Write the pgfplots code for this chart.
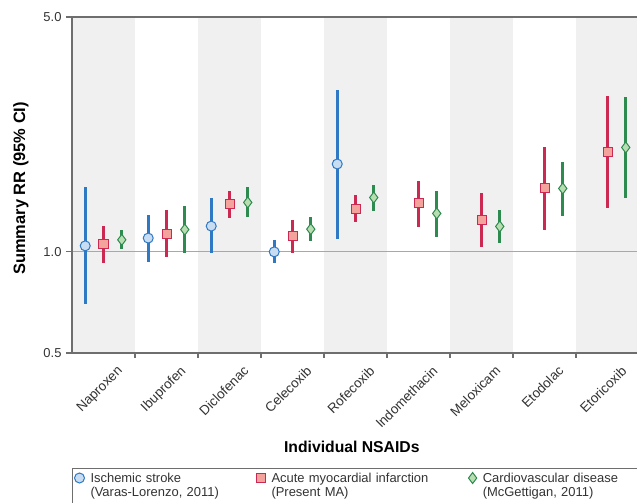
\documentclass[border=0pt]{standalone}
\usepackage{fontspec}
\setmainfont{Liberation Sans}
\usepackage{pgfplots}
\usepackage{pgfplotstable}
\pgfplotsset{compat=1.18}
\definecolor{bandgray}{HTML}{F0F0F0}
\definecolor{axisgray}{HTML}{6E6E6E}
\definecolor{refgray}{HTML}{A8A8A8}
\definecolor{txtgray}{HTML}{333333}
\definecolor{sblue}{HTML}{2F78C4}
\definecolor{sbluefill}{HTML}{C9DDF2}
\definecolor{sred}{HTML}{CC2952}
\definecolor{sredfill}{HTML}{F4A29C}
\definecolor{sgreen}{HTML}{2E8B4F}
\definecolor{sgreenfill}{HTML}{B8DDB0}

% Ischemic stroke (Varas-Lorenzo, 2011)
\pgfplotstableread{
x y lo hi
-0.29 1.042 0.701 1.555
0.71 1.099 0.936 1.289
1.71 1.193 0.993 1.445
2.71 1.000 0.925 1.084
3.71 1.826 1.091 3.030
}\stroke
% Acute myocardial infarction (Present MA)
\pgfplotstableread{
x y lo hi
0 1.054 0.929 1.195
1 1.134 0.966 1.331
2 1.387 1.260 1.520
3 1.114 0.995 1.243
4 1.343 1.223 1.479
5 1.393 1.187 1.628
6 1.246 1.035 1.492
7 1.544 1.160 2.055
8 1.976 1.350 2.900
}\ami
% Cardiovascular disease (McGettigan, 2011)
\pgfplotstableread{
x y lo hi
0.29 1.086 1.019 1.160
1.29 1.165 0.995 1.365
2.29 1.403 1.266 1.555
3.29 1.168 1.078 1.266
4.29 1.451 1.325 1.583
5.29 1.301 1.104 1.520
6.29 1.190 1.064 1.331
7.29 1.544 1.280 1.854
8.29 2.045 1.445 2.880
}\cvd

\begin{document}
\begin{tikzpicture}
\useasboundingbox (0,0) rectangle (637bp,503bp);
\begin{axis}[
  at={(72bp,150bp)}, anchor=south west,
  scale only axis, width=567bp, height=336bp,
  axis on top,
  ymode=log, ymin=0.5, ymax=5,
  xmin=-0.5, xmax=8.5,
  ytick={0.5,1,5}, yticklabels={0.5,1.0,5.0},
  yminorticks=false,
  xtick={0,...,8},
  xticklabels={Naproxen,Ibuprofen,Diclofenac,Celecoxib,Rofecoxib,Indomethacin,Meloxicam,Etodolac,Etoricoxib},
  minor xtick={0.5,1.5,...,7.5},
  xtick style={draw=none},
  minor x tick style={draw=axisgray, line width=1.2bp},
  ytick style={draw=axisgray, line width=1.2bp},
  major tick length=6bp, minor tick length=5bp,
  tick align=outside, xtick pos=bottom, ytick pos=left,
  axis line style={draw=axisgray, line width=1.6bp},
  /pgf/number format/assume math mode=true,
  yticklabel style={font=\fontsize{13}{15}\selectfont, text=txtgray, xshift=-1bp},
  xticklabel style={font=\fontsize{13.5}{15}\selectfont, text=txtgray, xshift=13bp, yshift=-1bp, rotate=45, anchor=north east},
  ylabel={\textbf{Summary RR (95\% CI)}},
  ylabel style={font=\fontsize{16.5}{18}\selectfont, text=black, at={(axis description cs:-0.09,0.49)}, anchor=center, rotate=0},
  xlabel={\textbf{Individual NSAIDs}},
  xlabel style={font=\fontsize{15.8}{17}\selectfont, text=black, at={(axis description cs:0.4935,-0.28)}, anchor=center},
  legend columns=3,
  legend style={at={(axis description cs:0,0)}, anchor=north west, yshift=-115bp,
    draw=axisgray, line width=1bp, inner xsep=2bp, inner ysep=4bp,
    font=\fontsize{13}{14.5}\selectfont, text=txtgray,
    nodes={inner sep=0bp, text depth=24bp},
    cells={anchor=base west},
    /tikz/every odd column/.append style={column sep=6bp},
    /tikz/every even column/.append style={column sep=9bp}},
  legend image code/.code={\draw[#1,only marks,line width=1bp] plot coordinates {(5bp,4bp)};},
  clip=true,
]
\fill[bandgray] (axis cs:-0.5,0.5) rectangle (axis cs:0.5,5);
\fill[bandgray] (axis cs:1.5,0.5) rectangle (axis cs:2.5,5);
\fill[bandgray] (axis cs:3.5,0.5) rectangle (axis cs:4.5,5);
\fill[bandgray] (axis cs:5.5,0.5) rectangle (axis cs:6.5,5);
\fill[bandgray] (axis cs:7.5,0.5) rectangle (axis cs:8.5,5);
\addplot[refgray, line width=1bp, forget plot] coordinates {(-0.5,1) (8.5,1)};

\addplot[only marks, mark=*, mark size=5bp, mark options={draw=sblue, fill=sbluefill, line width=1bp},
  error bars/.cd, y dir=both, y explicit, error mark=none,
  error bar style={draw=sblue, line width=2.8bp}]
  table[x=x, y=y, y error plus expr=\thisrow{hi}-\thisrow{y}, y error minus expr=\thisrow{y}-\thisrow{lo}] {\stroke};
\addlegendentry[text width=157bp]{Ischemic stroke\\(Varas-Lorenzo, 2011)}

\addplot[only marks, mark=square*, mark size=4.5bp, mark options={draw=sred, fill=sredfill, line width=1bp},
  error bars/.cd, y dir=both, y explicit, error mark=none,
  error bar style={draw=sred, line width=2.8bp}]
  table[x=x, y=y, y error plus expr=\thisrow{hi}-\thisrow{y}, y error minus expr=\thisrow{y}-\thisrow{lo}] {\ami};
\addlegendentry[text width=188bp]{Acute myocardial infarction\\(Present MA)}

\addplot[only marks, mark=diamond*, mark size=5.5bp, mark options={draw=sgreen, fill=sgreenfill, line width=1bp},
  error bars/.cd, y dir=both, y explicit, error mark=none,
  error bar style={draw=sgreen, line width=2.8bp}]
  table[x=x, y=y, y error plus expr=\thisrow{hi}-\thisrow{y}, y error minus expr=\thisrow{y}-\thisrow{lo}] {\cvd};
\addlegendentry[text width=200bp]{Cardiovascular disease\\(McGettigan, 2011)}
\end{axis}
\end{tikzpicture}
\end{document}
